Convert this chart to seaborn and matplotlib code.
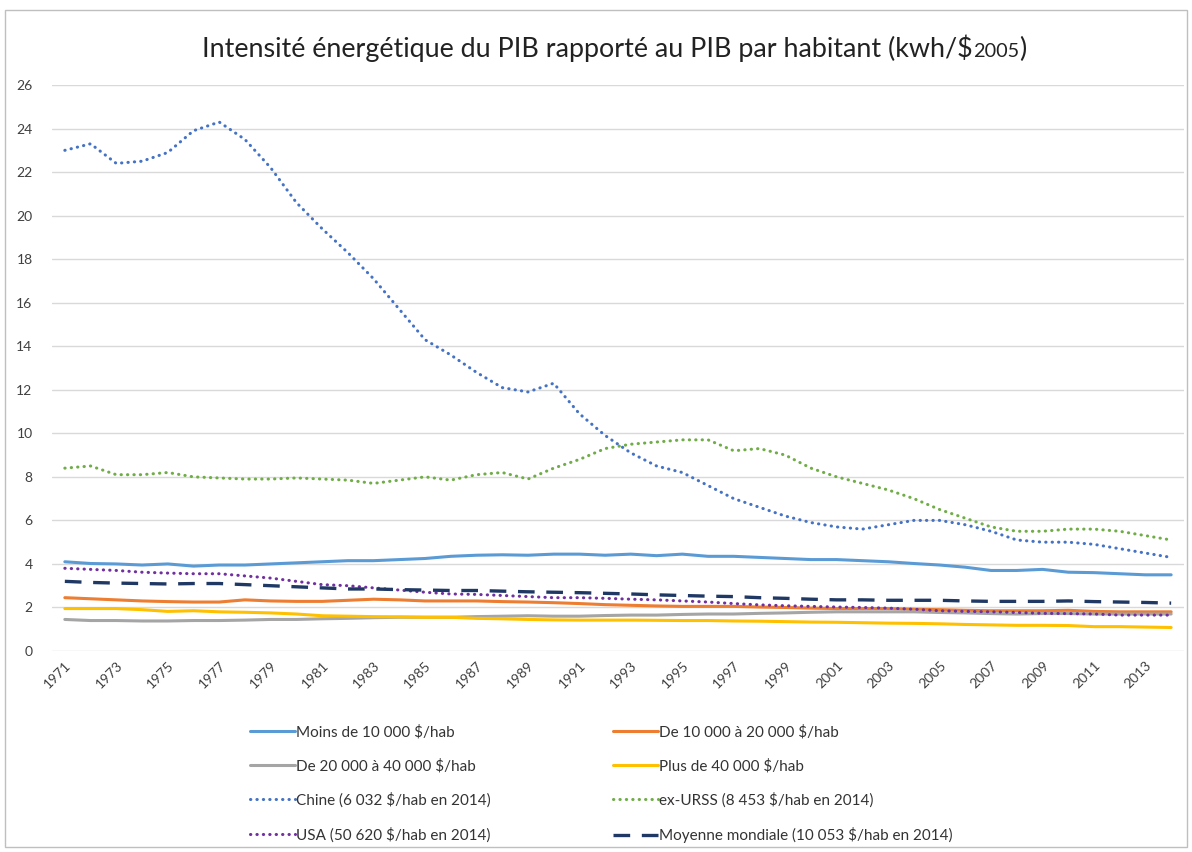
import numpy as np
import pandas as pd
import matplotlib
matplotlib.use("Agg")
import matplotlib.pyplot as plt
import seaborn as sns
from matplotlib.patches import Rectangle

years = list(range(1971, 2015))

moins_10000 = [4.10, 4.02, 4.00, 3.95, 4.00, 3.90, 3.95, 3.95, 4.00, 4.05, 4.10, 4.15, 4.15, 4.20, 4.25,
               4.35, 4.40, 4.42, 4.40, 4.45, 4.45, 4.40, 4.45, 4.38, 4.45, 4.35, 4.35, 4.30, 4.25, 4.20,
               4.20, 4.15, 4.10, 4.02, 3.95, 3.85, 3.70, 3.70, 3.75, 3.62, 3.60, 3.55, 3.50, 3.50]
de_10_20 = [2.45, 2.40, 2.35, 2.30, 2.27, 2.25, 2.25, 2.35, 2.30, 2.28, 2.28, 2.33, 2.38, 2.35, 2.30,
            2.30, 2.30, 2.27, 2.25, 2.22, 2.18, 2.13, 2.10, 2.07, 2.05, 2.05, 2.05, 2.02, 2.00, 1.97,
            1.95, 1.95, 1.95, 1.92, 1.90, 1.87, 1.85, 1.85, 1.85, 1.87, 1.82, 1.80, 1.80, 1.80]
de_20_40 = [1.45, 1.40, 1.40, 1.38, 1.38, 1.40, 1.40, 1.42, 1.45, 1.45, 1.48, 1.50, 1.53, 1.55, 1.55,
            1.55, 1.58, 1.60, 1.62, 1.60, 1.60, 1.63, 1.65, 1.65, 1.68, 1.70, 1.70, 1.73, 1.75, 1.78,
            1.80, 1.80, 1.80, 1.80, 1.77, 1.75, 1.72, 1.70, 1.72, 1.72, 1.70, 1.70, 1.70, 1.70]
plus_40000 = [1.95, 1.95, 1.95, 1.90, 1.82, 1.85, 1.80, 1.78, 1.75, 1.70, 1.62, 1.60, 1.58, 1.57, 1.55,
              1.55, 1.50, 1.48, 1.45, 1.43, 1.42, 1.42, 1.42, 1.41, 1.40, 1.40, 1.38, 1.37, 1.35, 1.33,
              1.32, 1.30, 1.28, 1.27, 1.25, 1.22, 1.20, 1.18, 1.18, 1.17, 1.12, 1.12, 1.10, 1.08]
chine = [23.0, 23.3, 22.4, 22.5, 22.9, 23.9, 24.3, 23.5, 22.2, 20.6, 19.4, 18.3, 17.1, 15.7, 14.3,
         13.6, 12.8, 12.1, 11.9, 12.3, 10.9, 9.9, 9.1, 8.5, 8.2, 7.6, 7.0, 6.6, 6.2, 5.9,
         5.7, 5.6, 5.8, 6.0, 6.0, 5.8, 5.5, 5.1, 5.0, 5.0, 4.9, 4.7, 4.5, 4.3]
ex_urss = [8.4, 8.5, 8.1, 8.1, 8.2, 8.0, 7.95, 7.9, 7.9, 7.95, 7.9, 7.85, 7.7, 7.85, 8.0,
           7.85, 8.1, 8.2, 7.9, 8.4, 8.8, 9.3, 9.5, 9.6, 9.7, 9.7, 9.2, 9.3, 9.0, 8.4,
           8.0, 7.7, 7.4, 7.0, 6.5, 6.1, 5.7, 5.5, 5.5, 5.6, 5.6, 5.5, 5.3, 5.1]
usa = [3.80, 3.75, 3.70, 3.62, 3.58, 3.55, 3.55, 3.45, 3.35, 3.20, 3.05, 3.00, 2.90, 2.80, 2.70,
       2.62, 2.60, 2.55, 2.50, 2.45, 2.45, 2.42, 2.38, 2.35, 2.30, 2.25, 2.18, 2.12, 2.08, 2.05,
       2.02, 2.00, 1.97, 1.92, 1.85, 1.82, 1.80, 1.77, 1.73, 1.72, 1.70, 1.65, 1.65, 1.65]
moyenne = [3.20, 3.15, 3.12, 3.10, 3.08, 3.10, 3.10, 3.05, 3.00, 2.95, 2.90, 2.85, 2.85, 2.82, 2.80,
           2.78, 2.78, 2.75, 2.72, 2.70, 2.68, 2.65, 2.62, 2.58, 2.55, 2.52, 2.50, 2.45, 2.42, 2.38,
           2.35, 2.35, 2.33, 2.33, 2.33, 2.30, 2.28, 2.28, 2.28, 2.30, 2.27, 2.25, 2.23, 2.20]

labels = [
    "Moins de 10 000 \\$/hab",
    "De 10 000 à 20 000 \\$/hab",
    "De 20 000 à 40 000 \\$/hab",
    "Plus de 40 000 \\$/hab",
    "Chine (6 032 \\$/hab en 2014)",
    "ex-URSS (8 453 \\$/hab en 2014)",
    "USA (50 620 \\$/hab en 2014)",
    "Moyenne mondiale (10 053 \\$/hab en 2014)",
]
series = [moins_10000, de_10_20, de_20_40, plus_40000, chine, ex_urss, usa, moyenne]
colors = ["#5B9BD5", "#ED7D31", "#A5A5A5", "#FFC000", "#4472C4", "#70AD47", "#7030A0", "#1F3864"]
styles = ["solid", "solid", "solid", "solid", "dot", "dot", "dot", "dash"]

sns.set_theme(style="white")
plt.rcParams['font.family'] = ['Lato', 'DejaVu Sans']

fig = plt.figure(figsize=(11.92, 8.52), dpi=100)
ax = fig.add_axes([0.0436, 0.2359, 0.9497, 0.6643])

fig.patches.append(Rectangle((0.004, 0.006), 0.992, 0.982, transform=fig.transFigure,
                             fill=False, edgecolor="#BFBFBF", linewidth=1.0))

handles = []
for lab, vals, col, st in zip(labels, series, colors, styles):
    df = pd.DataFrame({"year": years, "val": vals})
    sns.lineplot(data=df, x="year", y="val", ax=ax, color=col, legend=False)
    line = ax.get_lines()[-1]
    if st == "solid":
        line.set_linewidth(2.2)
        line.set_solid_capstyle("round")
    elif st == "dot":
        line.set_linewidth(2.2)
        line.set_linestyle((0, (0.1, 2.0)))
        line.set_dash_capstyle("round")
    else:
        line.set_linewidth(2.4)
        line.set_linestyle((0, (5, 3.5)))
    handles.append(line)

ax.set_xlim(1970.5, 2014.5)
ax.set_ylim(0, 26)
ax.set_yticks(range(0, 27, 2))
ax.set_xticks(years[::2])
ax.set_xticklabels([str(y) for y in years[::2]], rotation=45, ha="right",
                   rotation_mode="anchor", fontsize=10, color="#404040")
ax.tick_params(axis="y", labelsize=10, labelcolor="#404040", pad=14, length=0)
ax.tick_params(axis="x", length=0, pad=6)
for lab in ax.get_yticklabels():
    lab.set_horizontalalignment("right")
ax.grid(axis="y", color="#D9D9D9", linewidth=1.0)
ax.grid(axis="x", visible=False)
for s in ax.spines.values():
    s.set_visible(False)
ax.set_xlabel("")
ax.set_ylabel("")

# title with smaller "2005"
ty = 1 - 57 / 852
t = fig.text(0.5, ty, "Intensité énergétique du PIB rapporté au PIB par habitant (kwh/\\$",
             ha="left", va="baseline", fontsize=19.4, color="#222222")
renderer = fig.canvas.get_renderer()
fig.canvas.draw()
bb = t.get_window_extent(renderer)
main_w = bb.width
t2 = fig.text(0, ty, "2005", ha="left", va="baseline", fontsize=14.3, color="#222222")
t3 = fig.text(0, ty, ")", ha="left", va="baseline", fontsize=19.4, color="#222222")
w2 = t2.get_window_extent(renderer).width
w3 = t3.get_window_extent(renderer).width
total = main_w + w2 + w3
W = fig.bbox.width
x0 = 614 - total / 2
t.set_x(x0 / W)
t2.set_x((x0 + main_w) / W)
t3.set_x((x0 + main_w + w2) / W)

leg_kw = dict(frameon=False, fontsize=11, handlelength=2.95, labelspacing=1.27,
              handletextpad=0.1, borderpad=0, labelcolor="#333333")
left_idx = [0, 2, 4, 6]
right_idx = [1, 3, 5, 7]
leg1 = fig.legend([handles[i] for i in left_idx], [labels[i] for i in left_idx],
                  loc="upper left", bbox_to_anchor=(242 / 1192, 1 - 717 / 852), **leg_kw)
leg2 = fig.legend([handles[i] for i in right_idx], [labels[i] for i in right_idx],
                  loc="upper left", bbox_to_anchor=(605 / 1192, 1 - 717 / 852), **leg_kw)

fig.savefig("out.png", dpi=100)
